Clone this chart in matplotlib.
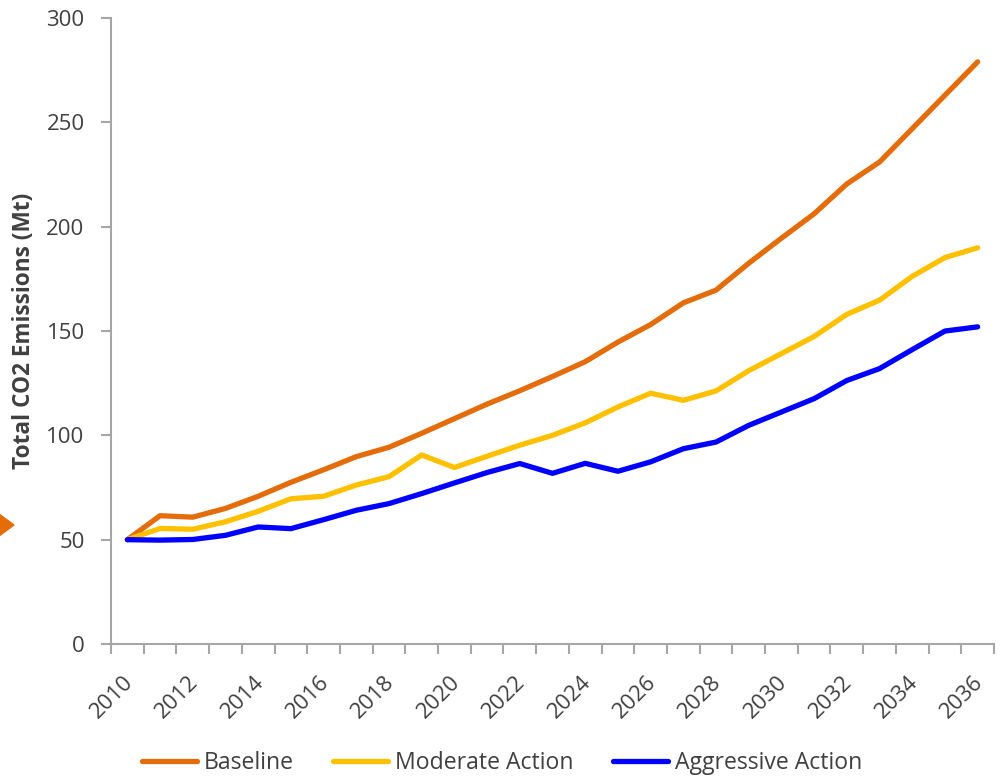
import numpy as np
import matplotlib
matplotlib.use("Agg")
import matplotlib.pyplot as plt
import matplotlib.transforms as mtransforms
from matplotlib.patches import Polygon

plt.rcParams['font.family'] = ['Open Sans', 'DejaVu Sans']

years = list(range(2010, 2037))
baseline = [50, 61.5, 60.8, 65, 70.8, 77.5, 83.5, 89.8, 94.3, 101, 108, 115, 121.4,
            128.2, 135.3, 144.7, 153.1, 163.5, 169.6, 182.5, 194.5, 206.2, 220.5,
            231, 247, 263, 279]
moderate = [50, 55.4, 55, 58.6, 63.6, 69.6, 70.8, 76.2, 80.2, 90.6, 84.6, 90, 95.3,
            100, 106, 113.6, 120.2, 116.8, 121.3, 131, 139.2, 147.4, 158, 164.8,
            176.2, 185.2, 189.9]
aggressive = [50, 49.8, 50.1, 52.1, 56.1, 55.3, 59.6, 64.1, 67.3, 72.1, 77.2, 82.2,
              86.5, 81.8, 86.6, 82.8, 87.3, 93.6, 96.8, 104.8, 111.2, 117.6, 126.3,
              132, 141.1, 150, 152]

series_names = ["Baseline", "Moderate Action", "Aggressive Action"]
series_colors = ["#E46C0A", "#FFC000", "#0000FF"]

text_color = "#404040"
axis_color = "#A6A6A6"

fig = plt.figure(figsize=(10, 7.78), dpi=100)
ax = fig.add_axes([0.111, 0.1722, 0.883, 0.8046])

x = np.arange(len(years))
lines = []
for vals, name, col in zip([baseline, moderate, aggressive], series_names, series_colors):
    ln, = ax.plot(x, vals, color=col, linewidth=3.8, label=name,
                  solid_capstyle="round", solid_joinstyle="round")
    lines.append(ln)

ax.set_xlim(-0.5, len(years) - 0.5)
ax.set_ylim(0, 300)
ax.set_yticks(np.arange(0, 301, 50))

# labels on every other category, tick marks on category boundaries
ax.set_xticks(x[::2])
ax.set_xticklabels([str(y) for y in years[::2]], rotation=45, ha="right",
                   va="top", rotation_mode="anchor")
ax.set_xticks(np.arange(-0.5, len(years), 1), minor=True)
ax.tick_params(axis="x", which="major", length=0, pad=20, labelsize=16,
               labelcolor=text_color)
ax.tick_params(axis="x", which="minor", length=7, width=1.5, color=axis_color)
ax.tick_params(axis="y", length=7, width=1.5, color=axis_color, labelsize=16,
               labelcolor=text_color, pad=12)

shift = mtransforms.ScaledTranslation(-5 / 100, 0, fig.dpi_scale_trans)
for lbl in ax.get_xticklabels():
    lbl.set_transform(lbl.get_transform() + shift)

for s in ["top", "right"]:
    ax.spines[s].set_visible(False)
for s in ["left", "bottom"]:
    ax.spines[s].set_color(axis_color)
    ax.spines[s].set_linewidth(1.5)

ax.set_ylabel("Total CO2 Emissions (Mt)", fontsize=16.3, fontweight="bold",
              color=text_color)
ax.yaxis.label.set_va("center")
ax.yaxis.set_label_coords(-0.099, 0.5)

fig.legend(handles=lines, loc="center", bbox_to_anchor=(0.502, 0.019), ncol=3,
           frameon=False, fontsize=16.6, handlelength=2.4, handletextpad=0.3,
           columnspacing=1.7, labelcolor=text_color)

# orange arrow marker at the left edge
fig.patches.append(Polygon([(-0.005, 1 - 511 / 778), (0.014, 1 - 525 / 778),
                            (-0.005, 1 - 539 / 778)], closed=True,
                           transform=fig.transFigure, color="#E46C0A"))

fig.savefig("out.png", dpi=100)
